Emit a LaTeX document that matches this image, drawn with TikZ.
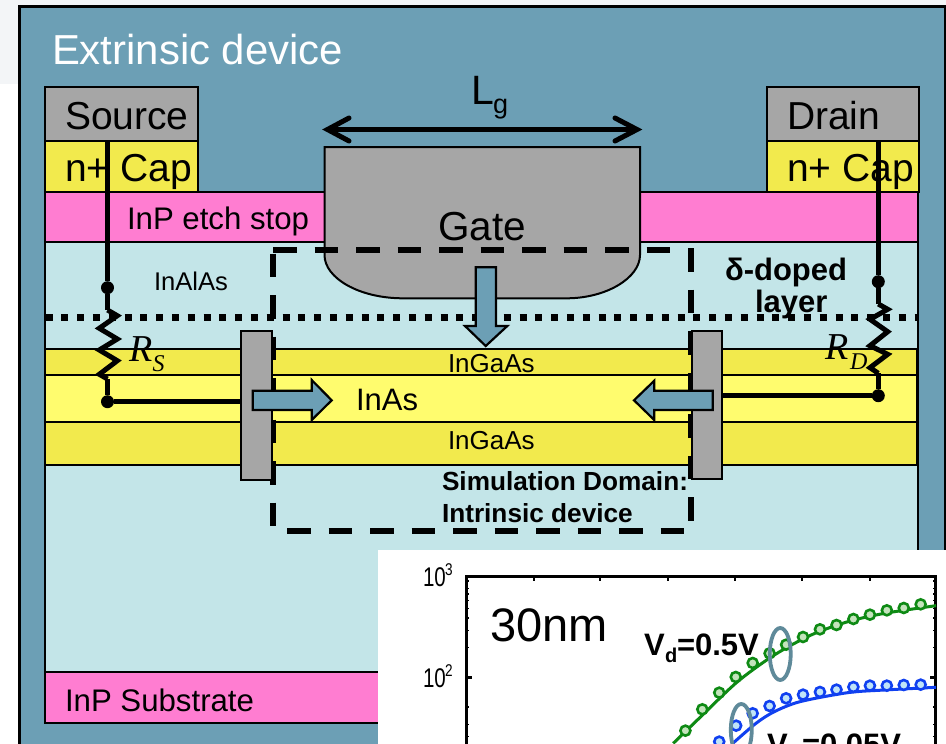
\documentclass[tikz,border=0pt]{standalone}
\usepackage{fontspec}
\setmainfont{Liberation Sans}
\newfontfamily\timesf{Liberation Serif}
\newcommand\fsz[1]{\fontsize{#1}{#1}\selectfont}
\definecolor{panelc}{HTML}{6C9FB5}
\definecolor{paleb}{HTML}{C3E5E8}
\definecolor{pinkc}{HTML}{FF7DD1}
\definecolor{yeld}{HTML}{F2EA4D}
\definecolor{yell}{HTML}{FFFC6E}
\definecolor{greyc}{HTML}{A6A6A6}
\definecolor{greenc}{HTML}{0E8A14}
\definecolor{bluec}{HTML}{1040F0}
\definecolor{ellc}{HTML}{5F8A9A}
\definecolor{dotg}{HTML}{C4E4BC}
\definecolor{dotb}{HTML}{C0E4F8}
\definecolor{paleg}{HTML}{F3F5F7}
\tikzset{
  layer/.style={draw=black,line width=2pt},
  txt/.style={inner sep=0pt,outer sep=0pt,anchor=base west,text=black},
  wire/.style={draw=black,line width=5pt},
  boxdash/.style={draw=black,line width=5.2pt,dash pattern=on 23.5pt off 18pt},
  flow/.style={draw=black,fill=panelc,line width=2.2pt,line join=miter},
  junction/.style={circle,fill=black,inner sep=0pt,minimum size=13pt},
}
\begin{document}
\begin{tikzpicture}[x=1pt,y=-1pt]
\useasboundingbox (0,0) rectangle (946,744);
\clip (0,0) rectangle (946,744);
\fill[white] (0,0) rectangle (946,744);
\fill[paleg] (0,0) rectangle (946,84);
% panel
\draw[fill=panelc,line width=2.4pt] (19.5,6.5) rectangle (945,760);
% device body
\draw[layer,fill=paleb] (45,242) rectangle (918,723);
\draw[layer,fill=yeld] (45,348.5) rectangle (917,375);
\draw[layer,fill=yell] (45,375) rectangle (917,421.5);
\draw[layer,fill=yeld] (45,421.5) rectangle (917,465);
\draw[layer,fill=pinkc] (45,191.5) rectangle (918,242);
\draw[layer,fill=pinkc] (45,672) rectangle (400,723);
\draw[layer,fill=greyc] (45,87) rectangle (197.5,140.5);
\draw[layer,fill=yeld] (45,140.5) rectangle (197.5,191.5);
\draw[layer,fill=greyc] (767,87) rectangle (918.5,140.5);
\draw[layer,fill=yeld] (767,140.5) rectangle (918.5,191.5);
% gate
\draw[layer,fill=greyc] (324.5,147) -- (640,147) -- (640,255)
  .. controls (640,278) and (606,298.3) .. (566.7,298.3) -- (403,298.3)
  .. controls (359,298.3) and (324.5,278) .. (324.5,255) -- cycle;
% texts on device
\node[txt,font=\fsz{41.9},text=white] (ext) at (52,64) {Extrinsic device};
\node[txt,font=\fsz{39}] (srcT) at (65,129.5) {Source};
\node[txt,font=\fsz{39}] (capS) at (65,181.7) {n+ Cap};
\node[txt,font=\fsz{31.2}] (etch) at (127,229) {InP etch stop};
\node[txt,font=\fsz{39}] (drnT) at (787,129.5) {Drain};
\node[txt,font=\fsz{39}] (capD) at (787,181.7) {n+ Cap};
\node[txt,font=\fsz{40.5}] (gateT) at (438,240) {Gate};
\node[txt,font=\fsz{41}] (lgL) at (471.5,104.3) {L};
\node[txt,font=\fsz{27}] (lgG) at (493,113) {g};
\node[txt,font=\fsz{25.6}] (alas) at (154,290.7) {InAlAs};
\node[txt,font=\fsz{26}] (ga1) at (448,372) {InGaAs};
\node[txt,font=\fsz{31}] (inas) at (356,410.5) {InAs};
\node[txt,font=\fsz{26}] (ga2) at (448,449) {InGaAs};
\node[txt,font=\fsz{31.2}] (sub) at (65,711) {InP Substrate};
\node[txt,font=\fsz{31}\bfseries] (delta) at (725,280.5) {δ-doped};
\node[txt,font=\fsz{31}\bfseries] (lay) at (755,312.7) {layer};
\node[txt,font=\fsz{26.2}\bfseries] (sim1) at (442,490) {Simulation Domain:};
\node[txt,font=\fsz{26.2}\bfseries] (sim2) at (442,522) {Intrinsic device};
\node[txt,font=\timesf\itshape\fsz{38}] (rs) at (129,361) {R};
\node[txt,font=\timesf\itshape\fsz{24}] (rss) at (152.5,371.7) {S};
\node[txt,font=\timesf\itshape\fsz{38}] (rd) at (825,359) {R};
\node[txt,font=\timesf\itshape\fsz{24}] (rds) at (850,369) {D};
% Lg arrow
\coordinate (lgA) at (327.5,129.5);
\coordinate (lgB) at (637,129.5);
\draw[line width=5pt] (lgA) -- (lgB);
\draw[line width=5pt,line cap=round,miter limit=10] (349,118) -- (lgA) -- (349,141);
\draw[line width=5pt,line cap=round,miter limit=10] (615,118) -- (lgB) -- (615,141);
% dashed simulation box
\coordinate (bTL) at (273,250);
\coordinate (bTR) at (672,250);
\coordinate (bRt) at (691,248);
\coordinate (bRb) at (691,522);
\coordinate (bLt) at (273,253.5);
\coordinate (bLb) at (273,528);
\coordinate (bBl) at (287,531);
\coordinate (bBr) at (684,531);
\draw[boxdash] (bTL) -- (bTR);
\draw[boxdash] (bRt) -- (bRb);
\draw[boxdash] (bLt) -- (bLb);
\draw[boxdash] (bBl) -- (bBr);
% dotted delta layer
\coordinate (dotA) at (45.5,317.7);
\coordinate (dotB) at (918,317.7);
\draw[line width=7pt,dash pattern=on 7pt off 8.8pt] (dotA) -- (dotB);
% source wire and resistor
\node[junction] (j1) at (107.5,287.7) {};
\node[junction] (j2) at (107.5,401.7) {};
\coordinate (sTop) at (107.5,141);
\coordinate (sR1) at (107.5,310);
\coordinate (sR2) at (107.5,379);
\draw[wire] (sTop) -- (j1) -- (sR1);
\draw[wire,miter limit=10] (sR1) -- (117.3,315.7) -- (99.3,328.3) -- (117.3,339) -- (99.3,350) -- (117.3,360.7) -- (99.3,374.3) -- (sR2);
\draw[wire] (sR2) -- (j2);
% drain wire and resistor
\node[junction] (j3) at (878.3,281.7) {};
\node[junction] (j4) at (878.3,395.7) {};
\coordinate (dTop) at (878.3,141);
\coordinate (dR1) at (878.3,304);
\coordinate (dR2) at (878.3,373.3);
\draw[wire] (dTop) -- (j3) -- (dR1);
\draw[wire,miter limit=10] (dR1) -- (887.7,309.3) -- (870,319.3) -- (887.7,331.7) -- (870,345.7) -- (887.7,354.3) -- (870,367.7) -- (dR2);
\draw[wire] (dR2) -- (j4);
% contact bars
\node[draw=black,fill=greyc,line width=2pt,inner sep=0pt,minimum width=30.5pt,minimum height=149.5pt] (barL) at (256.3,405.5) {};
\node[draw=black,fill=greyc,line width=2pt,inner sep=0pt,minimum width=30pt,minimum height=148.5pt] (barR) at (706.8,405.2) {};
\draw[wire] (j2) -- (j2 -| barL.west);
\draw[wire] (j4) -- (j4 -| barR.east);
% flow arrows
\draw[flow] (252.7,390.7) -- (311.7,390.7) -- (311.7,380) -- (331.7,400.3) -- (311.7,420) -- (311.7,410) -- (252.7,410) -- cycle;
\draw[flow] (712.7,390.7) -- (654.3,390.7) -- (654.3,380.7) -- (634,400.3) -- (654.3,420) -- (654.3,410) -- (712.7,410) -- cycle;
\draw[flow] (475.7,267.3) -- (496,267.3) -- (496,326) -- (507.3,326) -- (485.7,346) -- (465,326) -- (475.7,326) -- cycle;
% inset plot
\fill[white] (378,550) rectangle (946,744);
\begin{scope}[x=0.3676pt,y=-0.3333pt,xshift=370pt,yshift=-540pt]
\draw[line width=2.8pt] (262,700) -- (262,110) -- (1538,110) -- (1538,700);
\foreach \tx in {445,627,810,993,1176,1360} \draw[line width=2pt] (\tx,110) -- (\tx,124);
\foreach \ty in {412,323,271,234,205,182,162,145,123,501,553,590,619,642}{
  \draw[line width=1.5pt] (262,\ty) -- (269,\ty);
  \draw[line width=1.5pt] (1538,\ty) -- (1531,\ty);}
\draw[line width=2.6pt] (262,412) -- (277,412);
\draw[line width=2.6pt] (1538,412) -- (1523,412);
\draw[greenc,line width=3pt] plot[smooth] coordinates {(825,610) (900,530) (1000,425) (1100,345) (1200,285) (1300,245) (1400,220) (1540,197)};
\draw[bluec,line width=3pt] plot[smooth] coordinates {(985,612) (1050,550) (1100,515) (1170,485) (1300,458) (1400,450) (1540,442)};
\foreach \cx/\cy in {858/572,904/508,950/458,995/411,1041/369,1087/340,1132/314,1178/291,1224/268,1269/255,1315/237,1360/224,1406/211,1452/204,1498/193}
  \draw[greenc,fill=dotg,line width=2.6pt] (\cx,\cy) circle[radius=5pt];
\foreach \cx/\cy in {950/605,996/557,1041/520,1087/498,1132/475,1178/464,1224/456,1269/449,1315/441,1360/437,1406/437,1452/435,1498/434}
  \draw[bluec,fill=dotb,line width=2.6pt] (\cx,\cy) circle[radius=5pt];
\draw[ellc,line width=3.8pt] (1116,342) ellipse[x radius=10.5pt,y radius=26pt];
\draw[ellc,line width=3.8pt] (1010,570) ellipse[x radius=10.5pt,y radius=26pt];
\end{scope}
\node[txt,font=\fsz{47}] (nm) at (490,641) {30nm};
\node[txt,font=\fsz{27},xscale=.76] (t3) at (423,586.7) {10};
\node[txt,font=\fsz{17},xscale=.8] (t3e) at (445,575) {3};
\node[txt,font=\fsz{27},xscale=.76] (t2) at (423,687.7) {10};
\node[txt,font=\fsz{17},xscale=.8] (t2e) at (445,676) {2};
\node[txt,font=\fsz{31}\bfseries] (v1) at (644,655) {V};
\node[txt,font=\fsz{20}\bfseries] (v1d) at (665,662.7) {d};
\node[txt,font=\fsz{31}\bfseries] (v1r) at (677,655) {=0.5V};
\node[txt,font=\fsz{31}\bfseries] (v2) at (767,755) {V};
\node[txt,font=\fsz{20}\bfseries] (v2d) at (788,763) {d};
\node[txt,font=\fsz{31}\bfseries] (v2r) at (802,755) {=0.05V};
\end{tikzpicture}
\end{document}
